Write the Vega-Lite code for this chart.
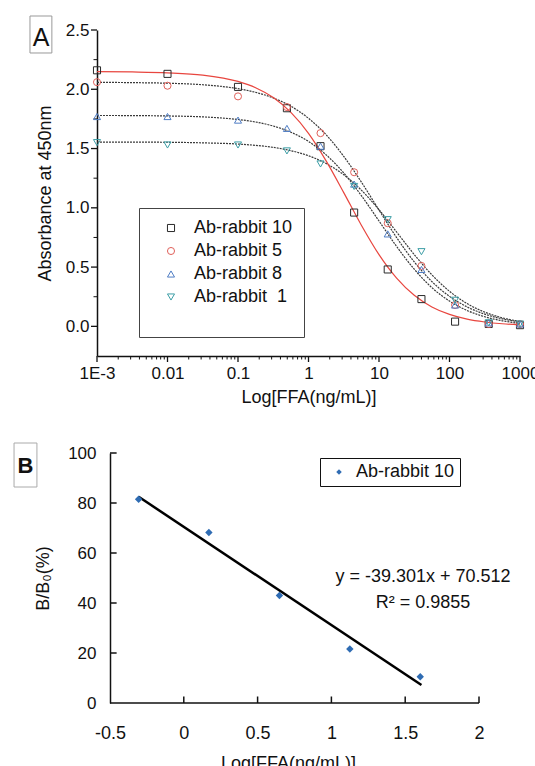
{
  "$schema": "https://vega.github.io/schema/vega-lite/v6.json",
  "padding": {"left": 13, "top": 15, "right": 0, "bottom": 0},
  "background": "white",
  "spacing": 36,
  "config": {
    "font": "Liberation Sans",
    "view": {"stroke": null},
    "axis": {"labelFont": "Liberation Sans", "titleFont": "Liberation Sans", "labelColor": "#111", "titleColor": "#111", "titleFontWeight": "normal", "domainColor": "#111", "grid": false, "domainWidth": 1.5},
    "legend": {"labelFont": "Liberation Sans", "labelColor": "#111", "titleFont": "Liberation Sans"},
    "text": {"font": "Liberation Sans", "color": "#111"}
  },
  "datasets": {
    "pointsA": [
      {"series": "Ab-rabbit 10", "conc": 0.001, "abs": 2.16}, {"series": "Ab-rabbit 10", "conc": 0.01, "abs": 2.13}, {"series": "Ab-rabbit 10", "conc": 0.1, "abs": 2.02}, {"series": "Ab-rabbit 10", "conc": 0.494, "abs": 1.84}, {"series": "Ab-rabbit 10", "conc": 1.48, "abs": 1.52}, {"series": "Ab-rabbit 10", "conc": 4.44, "abs": 0.96}, {"series": "Ab-rabbit 10", "conc": 13.3, "abs": 0.48}, {"series": "Ab-rabbit 10", "conc": 40, "abs": 0.23}, {"series": "Ab-rabbit 10", "conc": 120, "abs": 0.04}, {"series": "Ab-rabbit 10", "conc": 360, "abs": 0.02}, {"series": "Ab-rabbit 10", "conc": 1000, "abs": 0.01},
      {"series": "Ab-rabbit 5", "conc": 0.001, "abs": 2.06}, {"series": "Ab-rabbit 5", "conc": 0.01, "abs": 2.03}, {"series": "Ab-rabbit 5", "conc": 0.1, "abs": 1.94}, {"series": "Ab-rabbit 5", "conc": 0.494, "abs": 1.85}, {"series": "Ab-rabbit 5", "conc": 1.48, "abs": 1.63}, {"series": "Ab-rabbit 5", "conc": 4.44, "abs": 1.30}, {"series": "Ab-rabbit 5", "conc": 13.3, "abs": 0.87}, {"series": "Ab-rabbit 5", "conc": 40, "abs": 0.51}, {"series": "Ab-rabbit 5", "conc": 120, "abs": 0.18}, {"series": "Ab-rabbit 5", "conc": 360, "abs": 0.02}, {"series": "Ab-rabbit 5", "conc": 1000, "abs": 0.02},
      {"series": "Ab-rabbit 8", "conc": 0.001, "abs": 1.77}, {"series": "Ab-rabbit 8", "conc": 0.01, "abs": 1.77}, {"series": "Ab-rabbit 8", "conc": 0.1, "abs": 1.74}, {"series": "Ab-rabbit 8", "conc": 0.494, "abs": 1.67}, {"series": "Ab-rabbit 8", "conc": 1.48, "abs": 1.52}, {"series": "Ab-rabbit 8", "conc": 4.44, "abs": 1.20}, {"series": "Ab-rabbit 8", "conc": 13.3, "abs": 0.78}, {"series": "Ab-rabbit 8", "conc": 40, "abs": 0.48}, {"series": "Ab-rabbit 8", "conc": 120, "abs": 0.18}, {"series": "Ab-rabbit 8", "conc": 360, "abs": 0.03}, {"series": "Ab-rabbit 8", "conc": 1000, "abs": 0.02},
      {"series": "Ab-rabbit \u00a01", "conc": 0.001, "abs": 1.55}, {"series": "Ab-rabbit \u00a01", "conc": 0.01, "abs": 1.53}, {"series": "Ab-rabbit \u00a01", "conc": 0.1, "abs": 1.53}, {"series": "Ab-rabbit \u00a01", "conc": 0.494, "abs": 1.48}, {"series": "Ab-rabbit \u00a01", "conc": 1.48, "abs": 1.37}, {"series": "Ab-rabbit \u00a01", "conc": 4.44, "abs": 1.18}, {"series": "Ab-rabbit \u00a01", "conc": 13.3, "abs": 0.90}, {"series": "Ab-rabbit \u00a01", "conc": 40, "abs": 0.63}, {"series": "Ab-rabbit \u00a01", "conc": 120, "abs": 0.22}, {"series": "Ab-rabbit \u00a01", "conc": 360, "abs": 0.03}, {"series": "Ab-rabbit \u00a01", "conc": 1000, "abs": 0.02}
    ],
    "curvesA": [
      {"fit": "r10", "conc": 0.001, "abs": 2.149}, {"fit": "r10", "conc": 0.003162, "abs": 2.146}, {"fit": "r10", "conc": 0.01, "abs": 2.139}, {"fit": "r10", "conc": 0.03162, "abs": 2.120}, {"fit": "r10", "conc": 0.1, "abs": 2.066}, {"fit": "r10", "conc": 0.1778, "abs": 2.013}, {"fit": "r10", "conc": 0.3162, "abs": 1.930}, {"fit": "r10", "conc": 0.5623, "abs": 1.805}, {"fit": "r10", "conc": 1, "abs": 1.628}, {"fit": "r10", "conc": 1.778, "abs": 1.396}, {"fit": "r10", "conc": 3.162, "abs": 1.128}, {"fit": "r10", "conc": 5.623, "abs": 0.853}, {"fit": "r10", "conc": 10, "abs": 0.605}, {"fit": "r10", "conc": 17.78, "abs": 0.407}, {"fit": "r10", "conc": 31.62, "abs": 0.262}, {"fit": "r10", "conc": 56.23, "abs": 0.164}, {"fit": "r10", "conc": 100, "abs": 0.101}, {"fit": "r10", "conc": 177.8, "abs": 0.061}, {"fit": "r10", "conc": 316.2, "abs": 0.037}, {"fit": "r10", "conc": 562.3, "abs": 0.022}, {"fit": "r10", "conc": 1000, "abs": 0.013},
      {"fit": "r5", "conc": 0.001, "abs": 2.059}, {"fit": "r5", "conc": 0.003162, "abs": 2.056}, {"fit": "r5", "conc": 0.01, "abs": 2.051}, {"fit": "r5", "conc": 0.03162, "abs": 2.038}, {"fit": "r5", "conc": 0.1, "abs": 2.005}, {"fit": "r5", "conc": 0.1778, "abs": 1.974}, {"fit": "r5", "conc": 0.3162, "abs": 1.927}, {"fit": "r5", "conc": 0.5623, "abs": 1.857}, {"fit": "r5", "conc": 1, "abs": 1.755}, {"fit": "r5", "conc": 1.778, "abs": 1.616}, {"fit": "r5", "conc": 3.162, "abs": 1.434}, {"fit": "r5", "conc": 5.623, "abs": 1.217}, {"fit": "r5", "conc": 10, "abs": 0.981}, {"fit": "r5", "conc": 17.78, "abs": 0.749}, {"fit": "r5", "conc": 31.62, "abs": 0.544}, {"fit": "r5", "conc": 56.23, "abs": 0.378}, {"fit": "r5", "conc": 100, "abs": 0.253}, {"fit": "r5", "conc": 177.8, "abs": 0.164}, {"fit": "r5", "conc": 316.2, "abs": 0.103}, {"fit": "r5", "conc": 562.3, "abs": 0.063}, {"fit": "r5", "conc": 1000, "abs": 0.037},
      {"fit": "r8", "conc": 0.001, "abs": 1.779}, {"fit": "r8", "conc": 0.003162, "abs": 1.778}, {"fit": "r8", "conc": 0.01, "abs": 1.775}, {"fit": "r8", "conc": 0.03162, "abs": 1.767}, {"fit": "r8", "conc": 0.1, "abs": 1.745}, {"fit": "r8", "conc": 0.1778, "abs": 1.724}, {"fit": "r8", "conc": 0.3162, "abs": 1.690}, {"fit": "r8", "conc": 0.5623, "abs": 1.638}, {"fit": "r8", "conc": 1, "abs": 1.560}, {"fit": "r8", "conc": 1.778, "abs": 1.447}, {"fit": "r8", "conc": 3.162, "abs": 1.294}, {"fit": "r8", "conc": 5.623, "abs": 1.103}, {"fit": "r8", "conc": 10, "abs": 0.889}, {"fit": "r8", "conc": 17.78, "abs": 0.674}, {"fit": "r8", "conc": 31.62, "abs": 0.482}, {"fit": "r8", "conc": 56.23, "abs": 0.327}, {"fit": "r8", "conc": 100, "abs": 0.213}, {"fit": "r8", "conc": 177.8, "abs": 0.134}, {"fit": "r8", "conc": 316.2, "abs": 0.081}, {"fit": "r8", "conc": 562.3, "abs": 0.047}, {"fit": "r8", "conc": 1000, "abs": 0.025},
      {"fit": "r1", "conc": 0.001, "abs": 1.555}, {"fit": "r1", "conc": 0.003162, "abs": 1.554}, {"fit": "r1", "conc": 0.01, "abs": 1.553}, {"fit": "r1", "conc": 0.03162, "abs": 1.548}, {"fit": "r1", "conc": 0.1, "abs": 1.538}, {"fit": "r1", "conc": 0.1778, "abs": 1.527}, {"fit": "r1", "conc": 0.3162, "abs": 1.510}, {"fit": "r1", "conc": 0.5623, "abs": 1.482}, {"fit": "r1", "conc": 1, "abs": 1.439}, {"fit": "r1", "conc": 1.778, "abs": 1.374}, {"fit": "r1", "conc": 3.162, "abs": 1.279}, {"fit": "r1", "conc": 5.623, "abs": 1.149}, {"fit": "r1", "conc": 10, "abs": 0.984}, {"fit": "r1", "conc": 17.78, "abs": 0.796}, {"fit": "r1", "conc": 31.62, "abs": 0.606}, {"fit": "r1", "conc": 56.23, "abs": 0.435}, {"fit": "r1", "conc": 100, "abs": 0.296}, {"fit": "r1", "conc": 177.8, "abs": 0.192}, {"fit": "r1", "conc": 316.2, "abs": 0.120}, {"fit": "r1", "conc": 562.3, "abs": 0.072}, {"fit": "r1", "conc": 1000, "abs": 0.041}
    ],
    "pointsB": [
      {"series": "Ab-rabbit 10", "logc": -0.306, "ratio": 81.5},
      {"series": "Ab-rabbit 10", "logc": 0.170, "ratio": 68.2},
      {"series": "Ab-rabbit 10", "logc": 0.648, "ratio": 43.0},
      {"series": "Ab-rabbit 10", "logc": 1.125, "ratio": 21.6},
      {"series": "Ab-rabbit 10", "logc": 1.602, "ratio": 10.5}
    ],
    "lineB": [
      {"logc": -0.306, "ratio": 82.5},
      {"logc": 1.610, "ratio": 7.2}
    ]
  },
  "vconcat": [
    {
      "width": 423,
      "height": 326,
      "resolve": {"axis": {"x": "independent", "y": "independent"}},
      "layer": [
        {
          "data": {"name": "curvesA"},
          "transform": [{"filter": "datum.fit != 'r10'"}],
          "mark": {"type": "line", "interpolate": "monotone", "color": "#3a3a3a", "strokeWidth": 1.2, "strokeDash": [2, 1]},
          "encoding": {
            "x": {"field": "conc", "type": "quantitative", "scale": {"type": "log", "domain": [0.001, 1000]},
              "axis": {
                "orient": "bottom",
                "values": [0.001, 0.01, 0.1, 1, 10, 100, 1000],
                "labelExpr": "datum.value == 0.001 ? '1E-3' : format(datum.value, '~g')",
                "labelOverlap": false, "labelFlush": false, "labelBound": false,
                "ticks": true, "tickSize": 6, "tickOpacity": 0,
                "labelFontSize": 17, "labelPadding": 3,
                "title": "Log[FFA(ng/mL)]", "titleFontSize": 18, "titlePadding": 7
              }},
            "y": {"field": "abs", "type": "quantitative", "scale": {"domain": [-0.25, 2.5]},
              "axis": {
                "orient": "left",
                "values": [0, 0.5, 1, 1.5, 2, 2.5],
                "format": ".1f",
                "labelOverlap": false, "labelFlush": false,
                "ticks": true, "tickSize": 7, "tickOpacity": 0,
                "labelFontSize": 17, "labelPadding": 1,
                "title": "Absorbance at 450nm", "titleFontSize": 18, "titlePadding": 11
              }},
            "detail": {"field": "fit", "type": "nominal"}
          }
        },
        {
          "data": {"name": "curvesA"},
          "transform": [{"filter": "datum.fit == 'r10'"}],
          "mark": {"type": "line", "interpolate": "monotone", "color": "#e8463f", "strokeWidth": 1.2},
          "encoding": {
            "x": {"field": "conc", "type": "quantitative", "scale": {"type": "log", "domain": [0.001, 1000]}, "axis": null},
            "y": {"field": "abs", "type": "quantitative", "scale": {"domain": [-0.25, 2.5]}, "axis": null}
          }
        },
        {
          "data": {"values": [{"t": 0.001}, {"t": 0.01}, {"t": 0.1}, {"t": 1}, {"t": 10}, {"t": 100}, {"t": 1000}]},
          "mark": {"type": "rule", "color": "#111", "strokeWidth": 1.3},
          "encoding": {
            "x": {"field": "t", "type": "quantitative", "scale": {"type": "log", "domain": [0.001, 1000]}, "axis": null},
            "y": {"datum": -0.25, "scale": {"domain": [-0.25, 2.5]}, "axis": null},
            "y2": {"datum": -0.3006}
          }
        },
        {
          "data": {"values": [{"t":0.002},{"t":0.003},{"t":0.004},{"t":0.005},{"t":0.006},{"t":0.007},{"t":0.008},{"t":0.009},{"t":0.02},{"t":0.03},{"t":0.04},{"t":0.05},{"t":0.06},{"t":0.07},{"t":0.08},{"t":0.09},{"t":0.2},{"t":0.3},{"t":0.4},{"t":0.5},{"t":0.6},{"t":0.7},{"t":0.8},{"t":0.9},{"t":2},{"t":3},{"t":4},{"t":5},{"t":6},{"t":7},{"t":8},{"t":9},{"t":20},{"t":30},{"t":40},{"t":50},{"t":60},{"t":70},{"t":80},{"t":90},{"t":200},{"t":300},{"t":400},{"t":500},{"t":600},{"t":700},{"t":800},{"t":900}]},
          "mark": {"type": "rule", "color": "#111", "strokeWidth": 1},
          "encoding": {
            "x": {"field": "t", "type": "quantitative", "scale": {"type": "log", "domain": [0.001, 1000]}, "axis": null},
            "y": {"datum": -0.25, "scale": {"domain": [-0.25, 2.5]}, "axis": null},
            "y2": {"datum": -0.2795}
          }
        },
        {
          "data": {"values": [{"t": 0}, {"t": 0.5}, {"t": 1}, {"t": 1.5}, {"t": 2}, {"t": 2.5}]},
          "mark": {"type": "rule", "color": "#111", "strokeWidth": 1.3},
          "encoding": {
            "y": {"field": "t", "type": "quantitative", "scale": {"domain": [-0.25, 2.5]}, "axis": null},
            "x": {"datum": 0.001, "scale": {"type": "log", "domain": [0.001, 1000]}, "axis": null},
            "x2": {"datum": 0.000822}
          }
        },
        {
          "data": {"values": [{"t": 0.25}, {"t": 0.75}, {"t": 1.25}, {"t": 1.75}, {"t": 2.25}]},
          "mark": {"type": "rule", "color": "#111", "strokeWidth": 1},
          "encoding": {
            "y": {"field": "t", "type": "quantitative", "scale": {"domain": [-0.25, 2.5]}, "axis": null},
            "x": {"datum": 0.001, "scale": {"type": "log", "domain": [0.001, 1000]}, "axis": null},
            "x2": {"datum": 0.000892}
          }
        },
        {
          "data": {"name": "pointsA"},
          "mark": {"type": "point", "filled": false, "size": 50, "strokeWidth": 1, "opacity": 1},
          "encoding": {
            "x": {"field": "conc", "type": "quantitative", "scale": {"type": "log", "domain": [0.001, 1000]}, "axis": null},
            "y": {"field": "abs", "type": "quantitative", "scale": {"domain": [-0.25, 2.5]}, "axis": null},
            "stroke": {"field": "series", "type": "nominal",
              "scale": {"domain": ["Ab-rabbit 10", "Ab-rabbit 5", "Ab-rabbit 8", "Ab-rabbit \u00a01"], "range": ["#2a2a2a", "#e0605a", "#4f7dc4", "#3c9ea6"]},
              "legend": {"orient": "none", "legendX": 42, "legendY": 178, "title": ".", "titleColor": "white", "titleOrient": "bottom", "titleFontSize": 14, "titlePadding": 6, "strokeColor": "#444", "padding": 11, "labelFontSize": 18, "symbolSize": 50, "symbolStrokeWidth": 1, "symbolFillColor": "transparent", "symbolOffset": 12, "labelOffset": 14, "rowPadding": 5}},
            "shape": {"field": "series", "type": "nominal",
              "scale": {"domain": ["Ab-rabbit 10", "Ab-rabbit 5", "Ab-rabbit 8", "Ab-rabbit \u00a01"], "range": ["square", "circle", "triangle-up", "triangle-down"]},
              "legend": {"orient": "none", "legendX": 42, "legendY": 178, "title": ".", "titleColor": "white", "titleOrient": "bottom", "titleFontSize": 14, "titlePadding": 6, "strokeColor": "#444", "padding": 11, "labelFontSize": 18, "symbolSize": 50, "symbolStrokeWidth": 1, "symbolFillColor": "transparent", "symbolOffset": 12, "labelOffset": 14, "rowPadding": 5}}
          }
        },
        {
          "data": {"values": [{}]},
          "mark": {"type": "rect", "fill": "white", "stroke": "#999", "strokeWidth": 1},
          "encoding": {
            "x": {"datum": 0.000112, "scale": {"type": "log", "domain": [0.001, 1000]}, "axis": null},
            "x2": {"datum": 0.000229},
            "y": {"datum": 2.618, "scale": {"domain": [-0.25, 2.5]}, "axis": null},
            "y2": {"datum": 2.306}
          }
        },
        {
          "data": {"values": [{}]},
          "mark": {"type": "text", "text": "A", "fontSize": 25, "align": "center", "baseline": "middle"},
          "encoding": {
            "x": {"datum": 0.000161, "scale": {"type": "log", "domain": [0.001, 1000]}, "axis": null},
            "y": {"datum": 2.43, "scale": {"domain": [-0.25, 2.5]}, "axis": null}
          }
        }
      ]
    },
    {
      "width": 382,
      "height": 250,
      "layer": [
        {
          "data": {"values": [{}]},
          "mark": {"type": "rule", "color": "#111", "strokeWidth": 1.5},
          "encoding": {
            "x": {"datum": -0.5, "scale": {"domain": [-0.588, 2]}},
            "x2": {"datum": 2},
            "y": {"datum": 0, "scale": {"domain": [0, 100]}}
          }
        },
        {
          "data": {"name": "lineB"},
          "mark": {"type": "line", "color": "#000", "strokeWidth": 2.5},
          "encoding": {
            "x": {"field": "logc", "type": "quantitative", "scale": {"domain": [-0.588, 2]},
              "axis": {"values": [-0.5, 0, 0.5, 1, 1.5, 2], "labelExpr": "'' + datum.value", "domain": false, "ticks": true, "tickSize": -7, "tickOpacity": 0, "labelPadding": 28, "labelFontSize": 18, "labelFlush": false, "labelOverlap": false, "title": "Log[FFA(ng/mL)]", "titleFontSize": 18, "titlePadding": 12}},
            "y": {"field": "ratio", "type": "quantitative", "scale": {"domain": [0, 100]},
              "axis": {"values": [0, 20, 40, 60, 80, 100], "labelExpr": "'' + datum.value", "offset": -13, "ticks": true, "tickSize": -7, "tickOpacity": 0, "labelPadding": 21, "labelFontSize": 17, "labelFlush": false, "labelOverlap": false, "title": "B/B\u2080(%)", "titleFontSize": 18, "titlePadding": 15}}
          }
        },
        {
          "data": {"values": [{"t": 0}, {"t": 0.5}, {"t": 1}, {"t": 1.5}, {"t": 2}]},
          "mark": {"type": "rule", "color": "#111", "strokeWidth": 1.5},
          "encoding": {
            "x": {"field": "t", "type": "quantitative", "scale": {"domain": [-0.588, 2]}},
            "y": {"datum": 0, "scale": {"domain": [0, 100]}},
            "y2": {"datum": 2.6}
          }
        },
        {
          "data": {"values": [{"t": 20}, {"t": 40}, {"t": 60}, {"t": 80}, {"t": 100}]},
          "mark": {"type": "rule", "color": "#111", "strokeWidth": 1.5},
          "encoding": {
            "y": {"field": "t", "type": "quantitative", "scale": {"domain": [0, 100]}},
            "x": {"datum": -0.5, "scale": {"domain": [-0.588, 2]}},
            "x2": {"datum": -0.455}
          }
        },
        {
          "data": {"name": "pointsB"},
          "mark": {"type": "point", "filled": true, "shape": "diamond", "size": 55, "opacity": 1},
          "encoding": {
            "x": {"field": "logc", "type": "quantitative", "scale": {"domain": [-0.588, 2]}},
            "y": {"field": "ratio", "type": "quantitative", "scale": {"domain": [0, 100]}},
            "color": {"field": "series", "type": "nominal", "scale": {"range": ["#2f6cb3"]},
              "legend": {"orient": "none", "legendX": 223, "legendY": 428, "title": null, "strokeColor": "#111", "padding": 5, "labelFontSize": 18, "symbolSize": 30, "symbolOffset": 5, "labelOffset": 8}}
          }
        },
        {
          "data": {"values": [{}]},
          "mark": {"type": "text", "text": "y = -39.301x + 70.512", "fontSize": 18, "align": "center", "baseline": "middle"},
          "encoding": {
            "x": {"datum": 1.621, "scale": {"domain": [-0.588, 2]}},
            "y": {"datum": 50.4, "scale": {"domain": [0, 100]}}
          }
        },
        {
          "data": {"values": [{}]},
          "mark": {"type": "text", "text": "R\u00b2 = 0.9855", "fontSize": 18, "align": "center", "baseline": "middle"},
          "encoding": {
            "x": {"datum": 1.621, "scale": {"domain": [-0.588, 2]}},
            "y": {"datum": 40, "scale": {"domain": [0, 100]}}
          }
        },
        {
          "data": {"values": [{}]},
          "mark": {"type": "rect", "fill": "white", "stroke": "#aaa", "strokeWidth": 1},
          "encoding": {
            "x": {"datum": -1.150, "scale": {"domain": [-0.588, 2]}},
            "x2": {"datum": -0.995},
            "y": {"datum": 104, "scale": {"domain": [0, 100]}},
            "y2": {"datum": 86.4}
          }
        },
        {
          "data": {"values": [{}]},
          "mark": {"type": "text", "text": "B", "fontSize": 22, "fontWeight": "bold", "align": "center", "baseline": "middle"},
          "encoding": {
            "x": {"datum": -1.072, "scale": {"domain": [-0.588, 2]}},
            "y": {"datum": 95, "scale": {"domain": [0, 100]}}
          }
        }
      ]
    }
  ]
}
